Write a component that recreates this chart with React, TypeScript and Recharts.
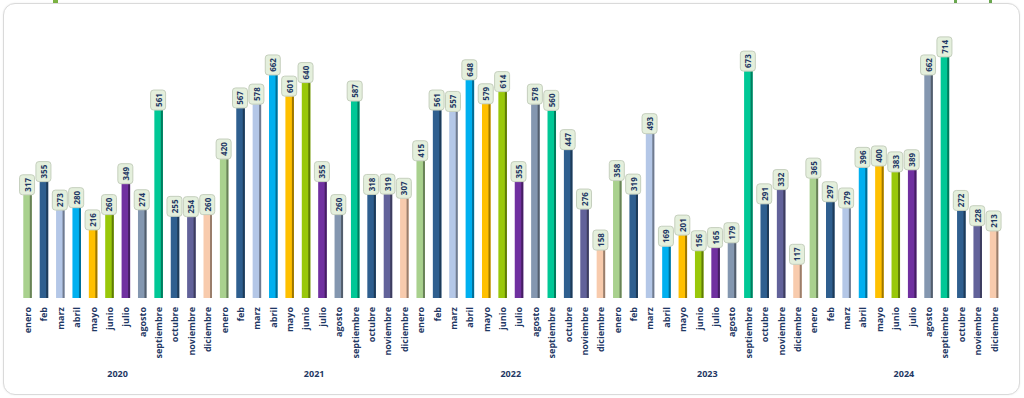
import React from "react";
import { BarChart, Bar, XAxis, YAxis, Cell, LabelList } from "recharts";

const months = ["enero", "feb", "marz", "abril", "mayo", "junio", "julio", "agosto", "septiembre", "octubre", "noviembre", "diciembre"];
const years = ["2020", "2021", "2022", "2023", "2024"];
const values2020 = [317, 355, 273, 280, 216, 260, 349, 274, 561, 255, 254, 260];
const values2021 = [420, 567, 578, 662, 601, 640, 355, 260, 587, 318, 319, 307];
const values2022 = [415, 561, 557, 648, 579, 614, 355, 578, 560, 447, 276, 158];
const values2023 = [358, 319, 493, 169, 201, 156, 165, 179, 673, 291, 332, 117];
const values2024 = [365, 297, 279, 396, 400, 383, 389, 662, 714, 272, 228, 213];
const seriesByYear = [values2020, values2021, values2022, values2023, values2024];
const monthColors = ["#a9d18e", "#2f5f8f", "#b4c7e7", "#00b0f0", "#ffc000", "#99c80a", "#7030a0", "#8497b0", "#00c896", "#2f5f8f", "#62629a", "#f8cbad"];

const data = years.flatMap((yr, yi) =>
  months.map((m, mi) => ({ id: yi * 12 + mi, month: m, year: yr, mi, value: seriesByYear[yi][mi] }))
);

const NAVY = "#1f3864";
const FONT = "'Open Sans', 'DejaVu Sans', sans-serif";

function darken(hex: string, f = 0.62) {
  const n = parseInt(hex.slice(1), 16);
  const r = Math.round(((n >> 16) & 255) * f);
  const g = Math.round(((n >> 8) & 255) * f);
  const b = Math.round((n & 255) * f);
  return `rgb(${r},${g},${b})`;
}

const BarShape = (props: any) => {
  const { x, y, width, height, fill } = props;
  if (height <= 0) return null;
  return (
    <g>
      <rect x={x} y={y} width={width} height={height} fill={fill} />
      <rect x={x + width - 2} y={y} width={2} height={height} fill={darken(fill)} />
    </g>
  );
};

const ValueLabel = (props: any) => {
  const { x, y, width, value } = props;
  const cx = x + width / 2 - 0.5;
  const w = 15;
  const h = 20;
  return (
    <g>
      <rect x={cx - w / 2} y={y - h} width={w} height={h} rx={3} ry={3} fill="#e4efdc" stroke="#c5cfbd" strokeWidth={1} />
      <text
        x={cx}
        y={y - h / 2}
        transform={`rotate(-90 ${cx} ${y - h / 2})`}
        textAnchor="middle"
        dominantBaseline="central"
        fontSize={8}
        fontWeight={700}
        fontFamily={FONT}
        fill={NAVY}
      >
        {value}
      </text>
    </g>
  );
};

const BAND = (1002.2 - 19.3) / 60;

const MonthTick = (props: any) => {
  const { x, payload } = props;
  const d = data[payload.value];
  if (!d) return null;
  const ty = 307;
  return (
    <g>
      <text
        x={x}
        y={ty}
        transform={`rotate(-90 ${x} ${ty})`}
        textAnchor="end"
        dominantBaseline="central"
        fontSize={9}
        fontWeight={700}
        fontFamily={FONT}
        fill={NAVY}
      >
        {d.month}
      </text>
      {d.mi === 5 ? (
        <text
          x={x + BAND / 2}
          y={373}
          textAnchor="middle"
          dominantBaseline="central"
          fontSize={9}
          fontWeight={700}
          fontFamily={FONT}
          fill={NAVY}
        >
          {d.year}
        </text>
      ) : null}
    </g>
  );
};

export default function App() {
  return (
    <div style={{ position: "absolute", left: 0, top: 0, width: 1024, height: 398, background: "#ffffff", overflow: "hidden" }}>
      <div style={{ position: "absolute", left: 53, top: 0, width: 5, height: 4, background: "#7cb342" }} />
      <div style={{ position: "absolute", left: 954, top: 0, width: 3, height: 3, background: "#6aa84f" }} />
      <div style={{ position: "absolute", left: 989, top: 0, width: 3, height: 3, background: "#6aa84f" }} />
      <div
        style={{
          position: "absolute",
          left: 3,
          top: 3,
          width: 1015,
          height: 390,
          border: "1px solid #dadada",
          borderRadius: 12,
          background: "#ffffff",
          boxShadow: "0 0 2px rgba(0,0,0,0.08)",
        }}
      />
      <div style={{ position: "absolute", left: 0, top: 0 }}>
        <BarChart
          width={1024}
          height={398}
          data={data}
          margin={{ top: 27, right: 21.8, bottom: 0, left: 19.3 }}
          barCategoryGap={0}
        >
          <XAxis
            dataKey="id"
            type="category"
            interval={0}
            tick={<MonthTick />}
            tickLine={false}
            axisLine={false}
            height={100}
          />
          <YAxis hide domain={[20, 800]} allowDataOverflow />
          <Bar dataKey="value" barSize={8.5} isAnimationActive={false} shape={<BarShape />}>
            {data.map((d) => (
              <Cell key={d.id} fill={monthColors[d.mi]} />
            ))}
            <LabelList dataKey="value" content={<ValueLabel />} />
          </Bar>
        </BarChart>
      </div>
    </div>
  );
}
